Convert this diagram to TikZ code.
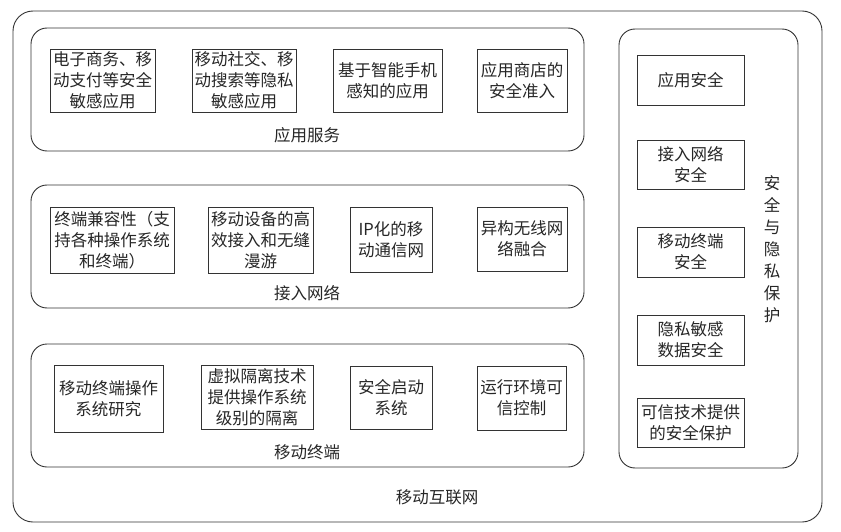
\documentclass[tikz,border=0pt]{standalone}
\usepackage{fontspec}
\newfontfamily\cjk{Noto Sans CJK SC}
\begin{document}
\begin{tikzpicture}[x=1pt,y=-1pt,
  every node/.style={font=\cjk\fontsize{16.5}{21}\selectfont, text=black!85, inner sep=0pt},
  item/.style={draw=black!80, line width=0.9pt, align=center},
  group/.style={draw=black!80, line width=0.9pt, rounded corners=16pt},
  outer/.style={draw=black!80, line width=0.9pt, rounded corners=20pt},
  lbl/.style={align=center}]
\useasboundingbox (0,0) rectangle (841,532);
% containers
\draw[outer] (13,11) rectangle (822,522);
\draw[group] (31,28) rectangle (584,151);
\draw[group] (31,185) rectangle (584,308);
\draw[group] (31,344) rectangle (584,467);
\draw[group] (619,29) rectangle (798,468);
% application row
\node[item, minimum width=105pt, minimum height=63pt] (a1) at (102.5,80.5) {电子商务、移\\动支付等安全\\敏感应用};
\node[item, minimum width=104pt, minimum height=63pt] (a2) at (244,80.5) {移动社交、移\\动搜索等隐私\\敏感应用};
\node[item, minimum width=109pt, minimum height=63pt] (a3) at (387.5,80.5) {基于智能手机\\感知的应用};
\node[item, minimum width=90pt, minimum height=63pt] (a4) at (522,80.5) {应用商店的\\安全准入};
\node[lbl] (la) at (307,135) {应用服务};
% access row
\node[item, minimum width=124pt, minimum height=66pt] (b1) at (112,240) {终端兼容性（支\\持各种操作系统\\和终端）};
\node[item, minimum width=105pt, minimum height=66pt] (b2) at (260.5,240) {移动设备的高\\效接入和无缝\\漫游};
\node[item, minimum width=82pt, minimum height=65pt] (b3) at (391,239.5) {IP化的移\\动通信网};
\node[item, minimum width=90pt, minimum height=64pt] (b4) at (522,239) {异构无线网\\络融合};
\node[lbl] (lb) at (307,293) {接入网络};
% terminal row
\node[item, minimum width=109pt, minimum height=67pt] (c1) at (108.5,398.5) {移动终端操作\\系统研究};
\node[item, minimum width=112pt, minimum height=64pt] (c2) at (257,397) {虚拟隔离技术\\提供操作系统\\级别的隔离};
\node[item, minimum width=82pt, minimum height=63pt] (c3) at (391,397.5) {安全启动\\系统};
\node[item, minimum width=89pt, minimum height=64pt] (c4) at (521.5,398) {运行环境可\\信控制};
\node[lbl] (lc) at (307,452) {移动终端};
% security column
\node[item, minimum width=107pt, minimum height=50pt] (s1) at (690.5,80) {应用安全};
\node[item, minimum width=107pt, minimum height=49pt] (s2) at (690.5,164.5) {接入网络\\安全};
\node[item, minimum width=107pt, minimum height=50pt] (s3) at (690.5,252) {移动终端\\安全};
\node[item, minimum width=107pt, minimum height=50pt] (s4) at (690.5,340) {隐私敏感\\数据安全};
\node[item, minimum width=107pt, minimum height=49pt] (s5) at (690.5,422.5) {可信技术提供\\的安全保护};
\node[lbl, font=\cjk\fontsize{16.5}{22}\selectfont] (ls) at (772,249) {安\\全\\与\\隐\\私\\保\\护};
\node[lbl] (lm) at (437,497) {移动互联网};
\end{tikzpicture}
\end{document}
